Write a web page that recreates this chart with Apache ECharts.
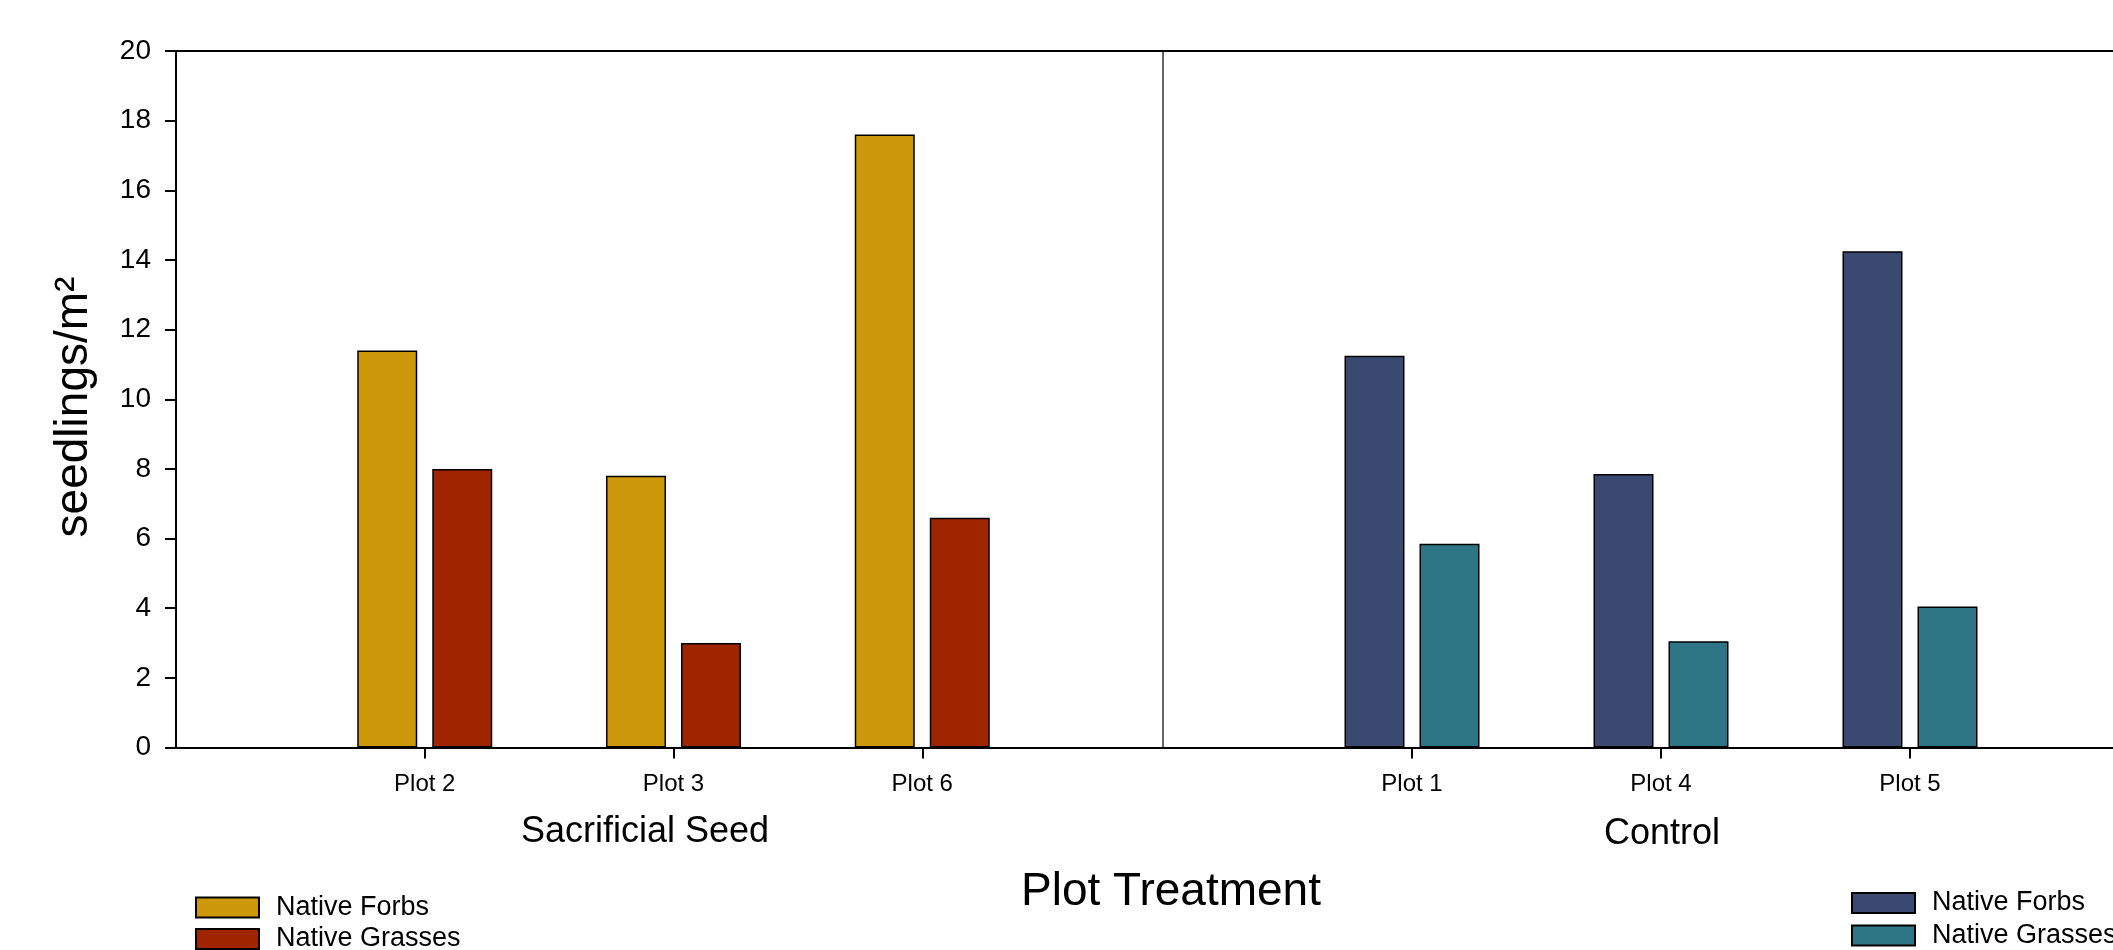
<!DOCTYPE html>
<html>
<head>
<meta charset="utf-8">
<script src="https://cdn.jsdelivr.net/npm/echarts@6/dist/echarts.min.js"></script>
<style>
  html, body { margin: 0; padding: 0; background: #fff; }
  #grafico { width: 2113px; height: 950px; }
</style>
</head>
<body>
<div id="grafico"></div>
<script>
// DATOS
const sacrificialPlots = ["Plot 2", "Plot 3", "Plot 6"];
const controlPlots = ["Plot 1", "Plot 4", "Plot 5"];
const sacForbs = [11.4, 7.8, 17.6];
const sacGrasses = [8.0, 3.0, 6.6];
const ctlForbs = [11.25, 7.85, 14.25];
const ctlGrasses = [5.85, 3.05, 4.05];
const seriesNames = ["Native Forbs", "Native Grasses"];

const FONT = "Liberation Sans, Arial, sans-serif";
const colors = {
  sacForbs: "#cd980a",
  sacGrasses: "#9e2500",
  ctlForbs: "#3a4970",
  ctlGrasses: "#2e7585"
};

// one empty slot each side so the plots sit at 1, 2, 3 of 0..4
const pad = (a) => [null, ...a, null];
const cats = (a) => ["", ...a, " "];

function bottomAxis(grid, data) {
  return {
    type: "category",
    gridIndex: grid,
    data: cats(data),
    boundaryGap: false,
    axisLine: { lineStyle: { color: "#000", width: 2 } },
    axisTick: {
      length: 11,
      interval: (i, v) => v.trim() !== "",
      lineStyle: { color: "#000", width: 2 }
    },
    axisLabel: { interval: 0, margin: 25, fontSize: 24, color: "#000", fontFamily: FONT },
    splitLine: { show: false }
  };
}
function topAxis(grid, data) {
  return {
    type: "category",
    gridIndex: grid,
    position: "top",
    data: cats(data),
    boundaryGap: false,
    axisLine: { lineStyle: { color: "#000", width: 2 } },
    axisTick: { show: false },
    axisLabel: { show: false }
  };
}

function bar(name, x, y, data, color) {
  return {
    name: name,
    type: "bar",
    xAxisIndex: x,
    yAxisIndex: y,
    data: pad(data),
    barWidth: 60,
    barGap: "25%",
    itemStyle: { color: color, borderColor: "#000", borderWidth: 1.5 }
  };
}

function legendAt(left, top, gap, forbsColor, grassesColor) {
  return {
    orient: "vertical",
    left: left, top: top, height: 100, padding: 0,
    itemWidth: 63, itemHeight: 20, itemGap: gap,
    icon: "rect",
    selectedMode: false,
    textStyle: { fontSize: 27, color: "#000", fontFamily: FONT, padding: [0, 0, 0, 12] },
    data: [
      { name: seriesNames[0], itemStyle: { color: forbsColor } },
      { name: seriesNames[1], itemStyle: { color: grassesColor } }
    ]
  };
}

let options = {
  backgroundColor: "#fff",
  animation: false,
  grid: [
    { left: 176, width: 995, top: 51, bottom: 202.5, outerBoundsMode: "none" },
    { left: 1163, width: 996, top: 51, bottom: 202.5, outerBoundsMode: "none" }
  ],
  xAxis: [
    bottomAxis(0, sacrificialPlots),
    bottomAxis(1, controlPlots),
    topAxis(0, sacrificialPlots),
    topAxis(1, controlPlots)
  ],
  yAxis: [
    {
      type: "value",
      gridIndex: 0,
      min: 0, max: 20, interval: 2,
      axisLine: { show: true, lineStyle: { color: "#000", width: 2 } },
      axisTick: { show: true, length: 11, lineStyle: { color: "#000", width: 2 } },
      axisLabel: { margin: 25, fontSize: 28, color: "#000", fontFamily: FONT },
      splitLine: { show: false }
    },
    {
      type: "value",
      gridIndex: 1,
      min: 0, max: 20, interval: 2,
      axisLine: { show: true, lineStyle: { color: "#333", width: 1.5 } },
      axisTick: { show: false },
      axisLabel: { show: false },
      splitLine: { show: false }
    }
  ],
  legend: [
    legendAt(195, 894, 4.5, colors.sacForbs, colors.sacGrasses),
    legendAt(1851, 889.5, 5.5, colors.ctlForbs, colors.ctlGrasses)
  ],
  graphic: [
    {
      type: "text", x: 74, y: 407, rotation: Math.PI / 2,
      style: { text: "seedlings/m²", font: "46px " + FONT, fill: "#000", textAlign: "center", textVerticalAlign: "middle" }
    },
    {
      type: "text", x: 645, y: 832,
      style: { text: "Sacrificial Seed", font: "36px " + FONT, fill: "#000", textAlign: "center", textVerticalAlign: "middle" }
    },
    {
      type: "text", x: 1662, y: 834,
      style: { text: "Control", font: "36px " + FONT, fill: "#000", textAlign: "center", textVerticalAlign: "middle" }
    },
    {
      type: "text", x: 1171, y: 892,
      style: { text: "Plot Treatment", font: "46px " + FONT, fill: "#000", textAlign: "center", textVerticalAlign: "middle" }
    }
  ],
  series: [
    bar(seriesNames[0], 0, 0, sacForbs, colors.sacForbs),
    bar(seriesNames[1], 0, 0, sacGrasses, colors.sacGrasses),
    bar(seriesNames[0], 1, 1, ctlForbs, colors.ctlForbs),
    bar(seriesNames[1], 1, 1, ctlGrasses, colors.ctlGrasses)
  ]
};

let chart = echarts.init(document.getElementById("grafico"));
chart.setOption(options);
</script>
</body>
</html>
